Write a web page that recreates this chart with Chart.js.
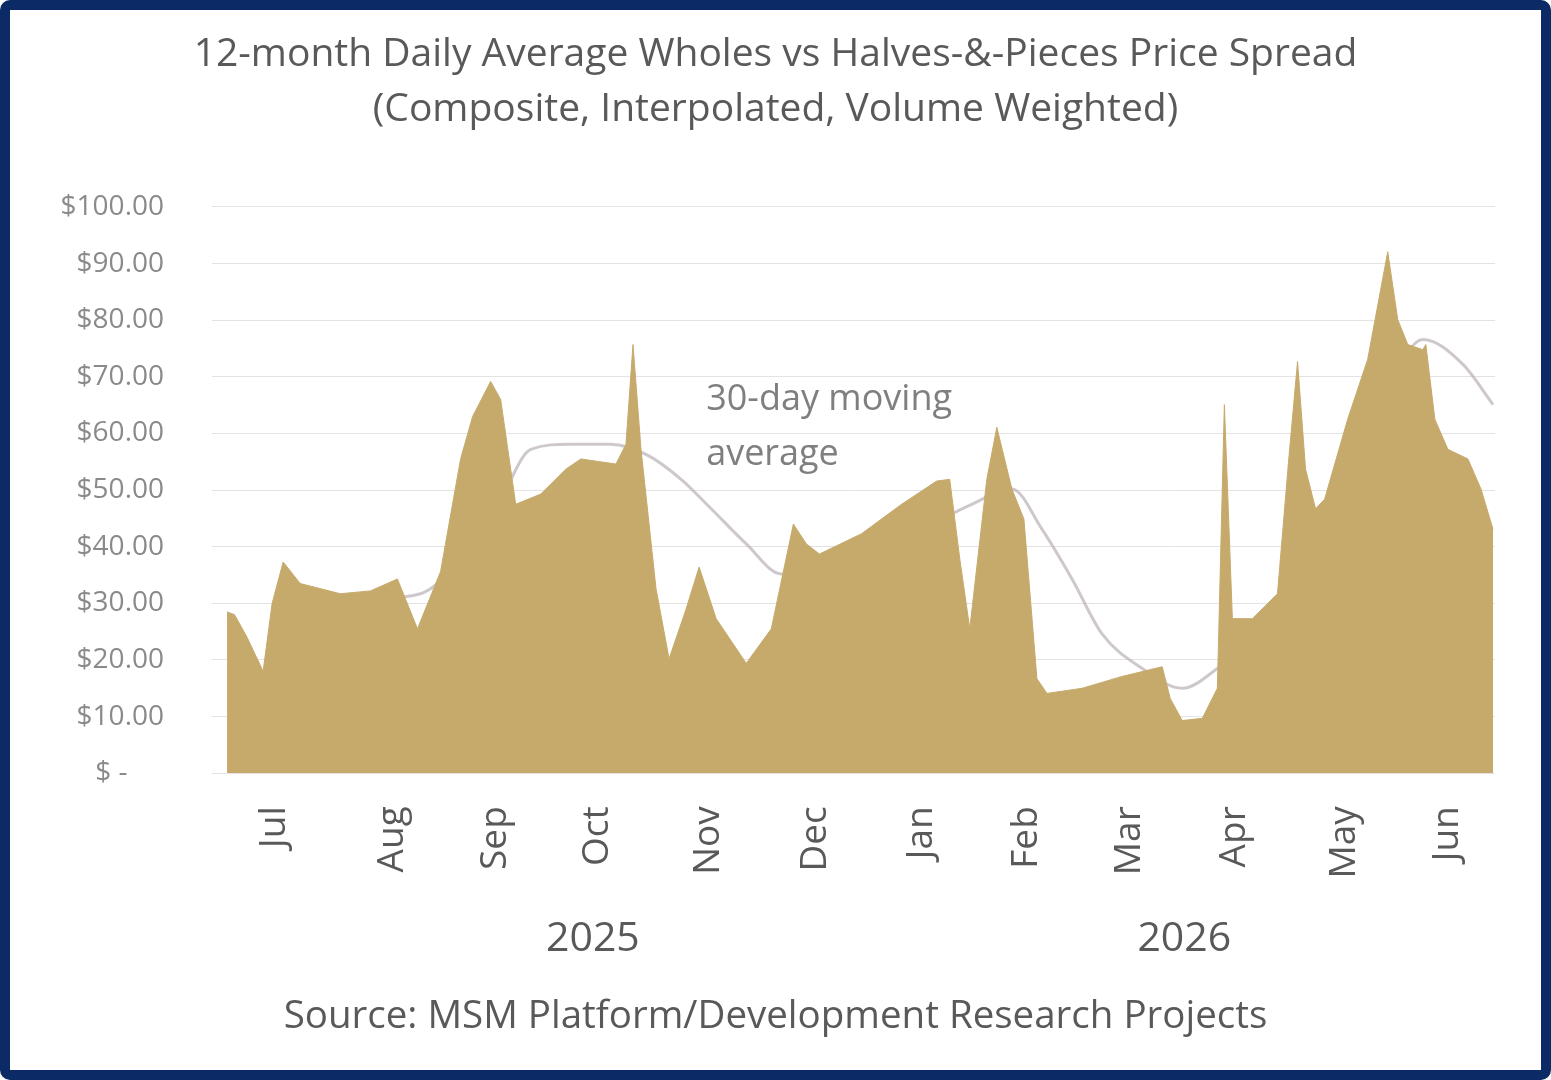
<!DOCTYPE html>
<html>
<head>
<meta charset="utf-8">
<script src="https://cdn.jsdelivr.net/npm/chart.js@4.4.1/dist/chart.umd.min.js"></script>
<style>
  html, body { margin: 0; padding: 0; background: #fff; }
  #frame {
    position: absolute; left: 0; top: 0;
    width: 1551px; height: 1080px;
    box-sizing: border-box;
    border: 10px solid #0b2a66;
    border-radius: 10px;
    background: #fff;
  }
  #wrap { position: absolute; left: 0; top: 0; width: 1531px; height: 1060px; }
</style>
</head>
<body>
<div id="frame"><div id="wrap"><canvas id="chart" width="1531" height="1060"></canvas></div></div>
<script>
// trading days per month, Jul 2025 .. Jun 2026
const months = ['Jul', 'Aug', 'Sep', 'Oct', 'Nov', 'Dec', 'Jan', 'Feb', 'Mar', 'Apr', 'May', 'Jun'];
const daysPerMonth = [25, 22, 19, 22, 22, 21, 21, 21, 20, 22, 22, 19];
const years = ['2025', '2026'];

// daily spread ($) at its turning points (x = trading day)
const spreadDay = [3, 4.5, 7, 10.2, 12, 14.2, 17.6, 25.6, 31.6, 37, 41, 45.6, 49.6, 52, 55.6, 57.6,
  60.6, 65.6, 70.6, 73.6, 80.6, 82.6, 84, 85.6, 88.6, 91.2, 94.6, 97.2, 100.6, 106.6, 111.6, 116,
  118.6, 121.2, 129.6, 137.6, 144.6, 147.2, 149.2, 151.2, 154.6, 156.6, 159.6, 162, 164.6, 166.6,
  173.6, 181.6, 189.6, 191.2, 193.6, 197.6, 200.6, 202, 203.6, 207.6, 212.6, 214.8, 216.6, 218.2,
  220.2, 222, 226.6, 230.6, 234.6, 236.6, 238.6, 241.6, 242.2, 244, 246.6, 250.6, 253.2, 255.6];
const spreadVal = [28.5, 28.0, 24, 18.0, 30, 37.3, 33.5, 31.7, 32.2, 34.3, 25.5, 35.6, 55.5, 63, 69.2, 66.0,
  47.5, 49.3, 53.7, 55.5, 54.6, 58.1, 75.7, 57.2, 32.6, 20.2, 29.0, 36.4, 27.3, 19.4, 25.5, 44.0,
  40.5, 38.7, 42.3, 47.5, 51.6, 51.9, 37.9, 25.5, 51.9, 61.1, 50.2, 44.9, 16.7, 14.1,
  15.0, 17.1, 18.8, 13.2, 9.3, 9.7, 15.0, 65.1, 27.3, 27.3, 31.7, 55, 72.7, 53.7,
  46.7, 48.4, 62.5, 73.1, 92.1, 80.1, 75.7, 74.8, 75.7, 62.5, 57.2, 55.5, 50.2, 43.1];

// 30-day moving average ($)
const maDay = [31.6, 41.6, 49.6, 57.6, 63.6, 71.6, 79.6, 86.6, 93.6, 99.6, 106.6, 113.6, 121.6, 131.6,
  141.6, 151.6, 159.6, 165.6, 171.6, 177.6, 185.6, 193.6, 200.6, 207.6, 213.6, 219.6, 225.6, 233.6,
  241.6, 249.6, 255.6];
const maVal = [30.8, 31.7, 37.9, 48.4, 57.2, 58.1, 58.1, 56.3, 51.9, 46.7, 40.5, 35.2, 35.2, 38.7,
  43.1, 47.5, 50.2, 43.1, 34.3, 24.6, 18.5, 15.0, 18.5, 23.8, 30.8, 40.5, 51.9, 66.0,
  76.6, 72.2, 65.1];

const yTicks = [0, 10, 20, 30, 40, 50, 60, 70, 80, 90, 100];

const FONT = '"Open Sans", "Noto Sans", sans-serif';
const GREY = '#595959';
const totalDays = daysPerMonth.reduce((a, b) => a + b, 0);

// month label sits in the middle of its run of trading days
const monthMid = [];
let start = 0;
daysPerMonth.forEach(n => { monthMid.push(start + n / 2); start += n; });

const noteText = ['30-day moving', 'average'];
const notePlugin = {
  id: 'maNote',
  afterDatasetsDraw(chart) {
    const { ctx, scales: { x, y } } = chart;
    ctx.save();
    ctx.font = '36px ' + FONT;
    ctx.fillStyle = '#7f7f7f';
    ctx.textAlign = 'left';
    ctx.textBaseline = 'middle';
    ctx.fillText(noteText[0], x.getPixelForValue(98.6), y.getPixelForValue(66));
    ctx.fillText(noteText[1], x.getPixelForValue(98.6), y.getPixelForValue(56.3));
    ctx.restore();
  }
};

new Chart(document.getElementById('chart'), {
  type: 'line',
  data: {
    datasets: [
      {
        label: 'Spread',
        data: spreadDay.map((d, i) => ({ x: d, y: spreadVal[i] })),
        backgroundColor: '#c6aa6b',
        borderColor: '#c6aa6b',
        borderWidth: 1,
        fill: 'origin',
        pointRadius: 0,
        tension: 0,
        order: 1
      },
      {
        label: '30-day moving average',
        data: maDay.map((d, i) => ({ x: d, y: maVal[i] })),
        borderColor: 'rgba(185,176,182,0.7)',
        borderWidth: 3,
        fill: false,
        pointRadius: 0,
        cubicInterpolationMode: 'monotone',
        order: 2
      }
    ]
  },
  options: {
    responsive: false,
    animation: false,
    layout: { padding: { left: 46, right: 46, top: 0, bottom: 0 } },
    plugins: {
      legend: { display: false },
      tooltip: { enabled: false },
      title: {
        display: true,
        text: ['12-month Daily Average Wholes vs Halves-&-Pieces Price Spread',
               '(Composite, Interpolated, Volume Weighted)'],
        color: GREY,
        font: { family: FONT, size: 39, weight: 'normal', lineHeight: 1.41 },
        padding: { top: 17, bottom: 70 }
      },
      subtitle: {
        display: true,
        position: 'bottom',
        text: 'Source: MSM Platform/Development Research Projects',
        color: GREY,
        font: { family: FONT, size: 38.5, weight: 'normal', lineHeight: 1.2 },
        padding: { top: 27, bottom: 30 }
      }
    },
    scales: {
      x: {
        type: 'linear',
        min: 0,
        max: totalDays,
        grid: { display: false, drawTicks: false },
        border: { display: false },
        afterBuildTicks: s => { s.ticks = monthMid.map(v => ({ value: v })); },
        ticks: {
          autoSkip: false,
          minRotation: 90,
          maxRotation: 90,
          padding: 33,
          color: GREY,
          font: { family: FONT, size: 37 },
          callback: (v, i) => months[i]
        }
      },
      x2: {
        type: 'linear',
        position: 'bottom',
        weight: 1,
        min: 0,
        max: totalDays,
        grid: { display: false, drawTicks: false },
        border: { display: false },
        afterBuildTicks: s => { s.ticks = [{ value: 76 }, { value: 194 }]; },
        ticks: {
          autoSkip: false,
          minRotation: 0,
          maxRotation: 0,
          padding: 3,
          color: GREY,
          font: { family: FONT, size: 41 },
          callback: (v, i) => years[i]
        }
      },
      y: {
        min: 0,
        max: 100,
        afterFit: s => { s.width = 156; },
        afterBuildTicks: s => { s.ticks = yTicks.map(v => ({ value: v })); },
        grid: { color: '#e3e3e3', lineWidth: 1, drawTicks: false },
        border: { display: false },
        ticks: {
          padding: 48,
          color: '#8a8a8a',
          font: { family: FONT, size: 28 },
          callback: v => v === 0 ? '$ -     ' : '$' + v.toFixed(2)
        }
      }
    }
  },
  plugins: [notePlugin]
});
</script>
</body>
</html>
